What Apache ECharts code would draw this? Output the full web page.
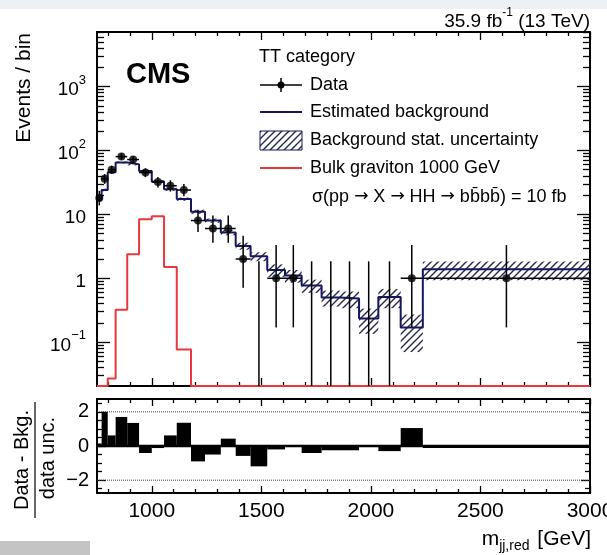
<!DOCTYPE html>
<html lang="en">
<head>
<meta charset="UTF-8">
<title>TT category</title>
<script src="https://cdn.jsdelivr.net/npm/echarts@6/dist/echarts.min.js"></script>
</head>
<body style="margin:0;background:#fff;">
<div id="main" style="width:607px;height:555px;"></div>
<script type="text/javascript">
    // bins in m_jj,red [GeV]
    var binEdges = [750, 771, 799, 835, 888, 942, 1000, 1056, 1114, 1179, 1243, 1315, 1383, 1451,
        1527, 1608, 1684, 1775, 1859, 1946, 2034, 2136, 2237, 3000];
    var dataCounts = [18, 36, 50, 80, 72, 45, 32, 28, 24, 8, 6, 6, 2, 0, 1, 1, 0, 0, 0, 0, 0, 1, 1];
    var dataLow = [13.8, 30.0, 43.0, 71.1, 63.6, 38.3, 26.4, 22.7, 19.1, 5.3, 3.6, 3.6, 0.71, 0, 0.17, 0.17, 0, 0, 0, 0, 0, 0.17, 0.17];
    var dataHigh = [23.3, 42.7, 57.6, 89.7, 81.2, 52.5, 38.4, 34.1, 29.9, 11.8, 9.6, 9.6, 4.64, 1.84, 3.3, 3.3, 1.84, 1.84, 1.84, 1.84, 1.84, 3.3, 3.3];
    var bkgValues = [17, 24, 45.6, 64.8, 60.5, 47.8, 32.7, 24.7, 17.3, 11, 8, 5.2, 3.2, 2.2, 1.35, 1.1, 0.77, 0.5, 0.48, 0.235, 0.51, 0.17, 1.38];
    var bkgErr = [1.0, 1.2, 1.8, 2.3, 2.2, 1.9, 1.5, 1.3, 1.0, 0.8, 0.6, 0.5, 0.4, 0.35, 0.3, 0.25, 0.18, 0.14, 0.14, 0.1, 0.17, 0.1, 0.45];
    var signalValues = [0, 0, 0.027, 0.32, 2.37, 8.4, 9.3, 1.5, 0.077, 0, 0, 0, 0, 0, 0, 0, 0, 0, 0, 0, 0, 0, 0];
    var pullValues = [0.15, 2.0, 0.62, 1.7, 1.35, -0.41, -0.12, 0.62, 1.36, -0.9, -0.5, 0.43, -0.58, -1.19,
        -0.2, 0.02, -0.41, -0.25, -0.25, -0.05, -0.3, 1.05, -0.12];
    var xTicks = [1000, 1500, 2000, 2500, 3000];
    var yTicks = [0.1, 1, 10, 100, 1000];
    var pullTicks = [-2, 0, 2];

    var xMin = 750, xMax = 3000, yMin = 0.0206, yMax = 7130, pMin = -2.75, pMax = 2.75;
    var font = 'Liberation Sans';
    var navy = '#16165e', red = '#e8383c';

    var xMinor = [];
    for (var v = 800; v < xMax; v += 100) if (v % 500) xMinor.push(v);
    var yMinor = [];
    [0.01, 0.1, 1, 10, 100, 1000].forEach(function (d) {
        for (var m = 2; m <= 9; m++) {
            var t = +(m * d).toPrecision(3);
            if (t > yMin && t < yMax) yMinor.push(t);
        }
    });
    var pMinor = [-2.5, -1.5, -1, -0.5, 0.5, 1, 1.5, 2.5];

    // hatch pattern for the stat. uncertainty
    var hc = document.createElement('canvas');
    hc.width = 7; hc.height = 7;
    var g = hc.getContext('2d');
    g.strokeStyle = '#26264f'; g.lineWidth = 1.4;
    g.beginPath();
    g.moveTo(0, 7); g.lineTo(7, 0);
    g.moveTo(-1, 1); g.lineTo(1, -1);
    g.moveTo(6, 8); g.lineTo(8, 6);
    g.stroke();
    var hatchFill = {image: hc, repeat: 'repeat'};

    function axis(type, grid, pos, lo, hi, ticks, len, label) {
        return {
            type: type, gridIndex: grid, position: pos, min: lo, max: hi, logBase: 10,
            axisLine: {show: false, onZero: false},
            splitLine: {show: false},
            minorTick: {show: false},
            axisTick: {show: true, inside: true, length: len, customValues: ticks,
                lineStyle: {color: '#000', width: 1.3}},
            axisLabel: label ? Object.assign({customValues: ticks, fontFamily: font, color: '#000'}, label) : {show: false}
        };
    }

    function logLabel(v) {
        var e = Math.round(Math.log10(v));
        if (e === 0) return '{b|1}';
        if (e === 1) return '{b|10}';
        return '{b|10}{s|' + (e < 0 ? '\u2212' + (-e) : e) + '}';
    }

    function centre(i) { return (binEdges[i] + binEdges[i + 1]) / 2; }
    function floor(v) { return Math.max(v, yMin); }

    var bandData = bkgValues.map(function (b, i) {
        return [binEdges[i], binEdges[i + 1], b - bkgErr[i], b + bkgErr[i]];
    });
    var bkgLine = binEdges.map(function (e, i) {
        return [e, bkgValues[Math.min(i, bkgValues.length - 1)]];
    });
    var sigLine = binEdges.map(function (e, i) {
        return [e, floor(signalValues[Math.min(i, signalValues.length - 1)])];
    });
    var errData = dataCounts.map(function (n, i) {
        return [centre(i), floor(dataLow[i]), dataHigh[i], binEdges[i], binEdges[i + 1]];
    });
    var pointData = [];
    dataCounts.forEach(function (n, i) { if (n > 0) pointData.push([centre(i), n]); });
    var pullData = pullValues.map(function (p, i) { return [binEdges[i], binEdges[i + 1], p]; });

    var myChart = echarts.init(document.getElementById('main'));

    var option = {
        backgroundColor: '#fff',
        animation: false,
        grid: [
            {left: 97, top: 32, width: 493, height: 354, show: true, borderColor: '#000', borderWidth: 2,
                backgroundColor: 'transparent', outerBoundsMode: 'none', containLabel: false},
            {left: 97, top: 399, width: 493, height: 94, show: true, borderColor: '#000', borderWidth: 2,
                backgroundColor: 'transparent', outerBoundsMode: 'none', containLabel: false}
        ],
        xAxis: [
            axis('value', 0, 'bottom', xMin, xMax, xTicks, 8),
            axis('value', 0, 'bottom', xMin, xMax, xMinor, 4),
            axis('value', 0, 'top', xMin, xMax, xTicks, 8),
            axis('value', 0, 'top', xMin, xMax, xMinor, 4),
            axis('value', 1, 'bottom', xMin, xMax, xTicks, 7, {
                fontSize: 21, margin: 8,
                formatter: function (v) { return String(v); }
            }),
            axis('value', 1, 'bottom', xMin, xMax, xMinor, 4),
            axis('value', 1, 'top', xMin, xMax, xTicks, 7),
            axis('value', 1, 'top', xMin, xMax, xMinor, 4)
        ],
        yAxis: [
            axis('log', 0, 'left', yMin, yMax, yTicks, 13, {
                margin: 11, formatter: logLabel,
                rich: {
                    b: {fontFamily: font, fontSize: 19, lineHeight: 26, verticalAlign: 'bottom', color: '#000'},
                    s: {fontFamily: font, fontSize: 13, lineHeight: 13, verticalAlign: 'top', color: '#000'}
                }
            }),
            axis('log', 0, 'left', yMin, yMax, yMinor, 7),
            axis('log', 0, 'right', yMin, yMax, yTicks, 13),
            axis('log', 0, 'right', yMin, yMax, yMinor, 7),
            axis('value', 1, 'left', pMin, pMax, pullTicks, 9, {
                fontSize: 20, margin: 8,
                formatter: function (v) { return v < 0 ? '\u2212' + (-v) : '' + v; }
            }),
            axis('value', 1, 'left', pMin, pMax, pMinor, 5),
            axis('value', 1, 'right', pMin, pMax, pullTicks, 9),
            axis('value', 1, 'right', pMin, pMax, pMinor, 5)
        ],
        series: [
            {
                type: 'custom', xAxisIndex: 0, yAxisIndex: 0, data: bandData, clip: true, z: 2,
                encode: {x: [0, 1], y: [2, 3]},
                renderItem: function (params, api) {
                    var a = api.coord([api.value(0), api.value(3)]);
                    var b = api.coord([api.value(1), api.value(2)]);
                    return {type: 'rect', shape: {x: a[0], y: a[1], width: b[0] - a[0], height: b[1] - a[1]},
                        style: {fill: hatchFill}};
                }
            },
            {
                type: 'line', xAxisIndex: 0, yAxisIndex: 0, data: bkgLine, step: 'end', showSymbol: false,
                symbol: 'none', z: 3, lineStyle: {color: navy, width: 2}
            },
            {
                type: 'line', xAxisIndex: 0, yAxisIndex: 0, data: sigLine, step: 'end', showSymbol: false,
                symbol: 'none', z: 3, lineStyle: {color: red, width: 2}
            },
            {
                type: 'custom', xAxisIndex: 0, yAxisIndex: 0, data: errData, clip: true, z: 4,
                encode: {x: [0, 3, 4], y: [1, 2]},
                renderItem: function (params, api) {
                    var xc = api.value(0), n = dataCounts[params.dataIndex];
                    var lo = api.coord([xc, api.value(1)]), hi = api.coord([xc, api.value(2)]);
                    var kids = [{type: 'line', shape: {x1: lo[0], y1: lo[1], x2: hi[0], y2: hi[1]},
                        style: {stroke: '#000', lineWidth: 1.5}}];
                    if (n > 0) {
                        var l = api.coord([api.value(3), n]), r = api.coord([api.value(4), n]);
                        kids.push({type: 'line', shape: {x1: l[0], y1: l[1], x2: r[0], y2: r[1]},
                            style: {stroke: '#000', lineWidth: 1.5}});
                    }
                    return {type: 'group', children: kids};
                }
            },
            {
                type: 'scatter', xAxisIndex: 0, yAxisIndex: 0, data: pointData, symbol: 'circle',
                symbolSize: 8, z: 5, itemStyle: {color: '#000'}
            },
            {
                type: 'custom', xAxisIndex: 4, yAxisIndex: 4, data: pullData, clip: true, z: 2,
                encode: {x: [0, 1], y: 2},
                renderItem: function (params, api) {
                    var p = api.value(2);
                    var a = api.coord([api.value(0), Math.max(p, 0)]);
                    var b = api.coord([api.value(1), Math.min(p, 0)]);
                    return {type: 'rect', shape: {x: a[0], y: a[1], width: b[0] - a[0], height: b[1] - a[1]},
                        style: {fill: '#000'}};
                }
            },
            {
                type: 'line', xAxisIndex: 4, yAxisIndex: 4, data: [[binEdges[0], 0], [xMax, 0]],
                symbol: 'none', z: 3, lineStyle: {color: '#000', width: 2.5}
            },
            {
                type: 'line', xAxisIndex: 4, yAxisIndex: 4, data: [[xMin, 2], [xMax, 2]],
                symbol: 'none', z: 1, lineStyle: {color: '#444', width: 1, type: 'dotted'}
            },
            {
                type: 'line', xAxisIndex: 4, yAxisIndex: 4, data: [[xMin, -2], [xMax, -2]],
                symbol: 'none', z: 1, lineStyle: {color: '#444', width: 1, type: 'dotted'}
            }
        ],
        graphic: [
            {type: 'rect', shape: {x: 0, y: 0, width: 607, height: 9}, style: {fill: '#eef1f4'}, z: -10},
            {type: 'rect', shape: {x: 0, y: 541, width: 90, height: 14}, style: {fill: '#c4c4c4'}, z: -10},
            {
                type: 'text', x: 590, y: 19,
                style: {
                    text: '{a|35.9 fb}{s|-1}{a| (13 TeV)}', align: 'right', verticalAlign: 'middle',
                    rich: {
                        a: {fontFamily: font, fontSize: 19, lineHeight: 24, verticalAlign: 'bottom', fill: '#000'},
                        s: {fontFamily: font, fontSize: 12, lineHeight: 12, verticalAlign: 'top', fill: '#000'}
                    }
                }
            },
            {
                type: 'text', x: 126, y: 75,
                style: {text: 'CMS', fontFamily: font, fontSize: 29, fontWeight: 'bold', fill: '#000',
                    align: 'left', verticalAlign: 'middle'}
            },
            {
                type: 'text', x: 24, y: 33, rotation: Math.PI / 2,
                style: {text: 'Events / bin', fontFamily: font, fontSize: 21, fill: '#000',
                    align: 'right', verticalAlign: 'middle'}
            },
            {
                type: 'text', x: 22, y: 460, rotation: Math.PI / 2,
                style: {text: 'Data - Bkg.', fontFamily: font, fontSize: 20, fill: '#000',
                    align: 'center', verticalAlign: 'middle'}
            },
            {
                type: 'line', shape: {x1: 35, y1: 402, x2: 35, y2: 518}, style: {stroke: '#000', lineWidth: 1.2}
            },
            {
                type: 'text', x: 48, y: 458, rotation: Math.PI / 2,
                style: {text: 'data unc.', fontFamily: font, fontSize: 20, fill: '#000',
                    align: 'center', verticalAlign: 'middle'}
            },
            {
                type: 'text', x: 591, y: 541,
                style: {
                    text: '{a|m}{u|jj,red}{a| [GeV]}', align: 'right', verticalAlign: 'middle',
                    rich: {
                        a: {fontFamily: font, fontSize: 21, lineHeight: 24, verticalAlign: 'top', fill: '#000'},
                        u: {fontFamily: font, fontSize: 14, lineHeight: 14, verticalAlign: 'bottom', fill: '#000',
                            padding: [0, 2, 0, 0]}
                    }
                }
            },
            // legend
            {type: 'text', x: 259, y: 57, style: {text: 'TT category', fontFamily: font, fontSize: 18,
                fill: '#000', align: 'left', verticalAlign: 'middle'}},
            {type: 'line', shape: {x1: 260, y1: 85, x2: 302, y2: 85}, style: {stroke: '#000', lineWidth: 1.5}},
            {type: 'line', shape: {x1: 281, y1: 78, x2: 281, y2: 92}, style: {stroke: '#000', lineWidth: 1.5}},
            {type: 'circle', shape: {cx: 281, cy: 85, r: 3.5}, style: {fill: '#000'}},
            {type: 'text', x: 310, y: 85, style: {text: 'Data', fontFamily: font, fontSize: 18,
                fill: '#000', align: 'left', verticalAlign: 'middle'}},
            {type: 'line', shape: {x1: 260, y1: 112, x2: 302, y2: 112}, style: {stroke: navy, lineWidth: 2}},
            {type: 'text', x: 310, y: 112, style: {text: 'Estimated background', fontFamily: font, fontSize: 18,
                fill: '#000', align: 'left', verticalAlign: 'middle'}},
            {type: 'rect', shape: {x: 260, y: 131, width: 42, height: 19},
                style: {fill: hatchFill, stroke: navy, lineWidth: 1}},
            {type: 'text', x: 310, y: 140, style: {text: 'Background stat. uncertainty', fontFamily: font,
                fontSize: 18, fill: '#000', align: 'left', verticalAlign: 'middle'}},
            {type: 'line', shape: {x1: 260, y1: 168, x2: 302, y2: 168}, style: {stroke: red, lineWidth: 2}},
            {type: 'text', x: 310, y: 168, style: {text: 'Bulk graviton 1000 GeV', fontFamily: font,
                fontSize: 18, fill: '#000', align: 'left', verticalAlign: 'middle'}},
            {type: 'text', x: 312, y: 197, style: {
                text: '{t|\u03c3(pp }{r|\u2192}{t| X }{r|\u2192}{t| HH }{r|\u2192}{t| bb\u0304bb\u0304) = 10 fb}',
                align: 'left', verticalAlign: 'middle',
                rich: {
                    t: {fontFamily: font, fontSize: 18, fill: '#000'},
                    r: {fontFamily: 'DejaVu Sans', fontSize: 17, fill: '#000'}
                }}}
        ]
    };
    myChart.setOption(option);
</script>
</body>
</html>
